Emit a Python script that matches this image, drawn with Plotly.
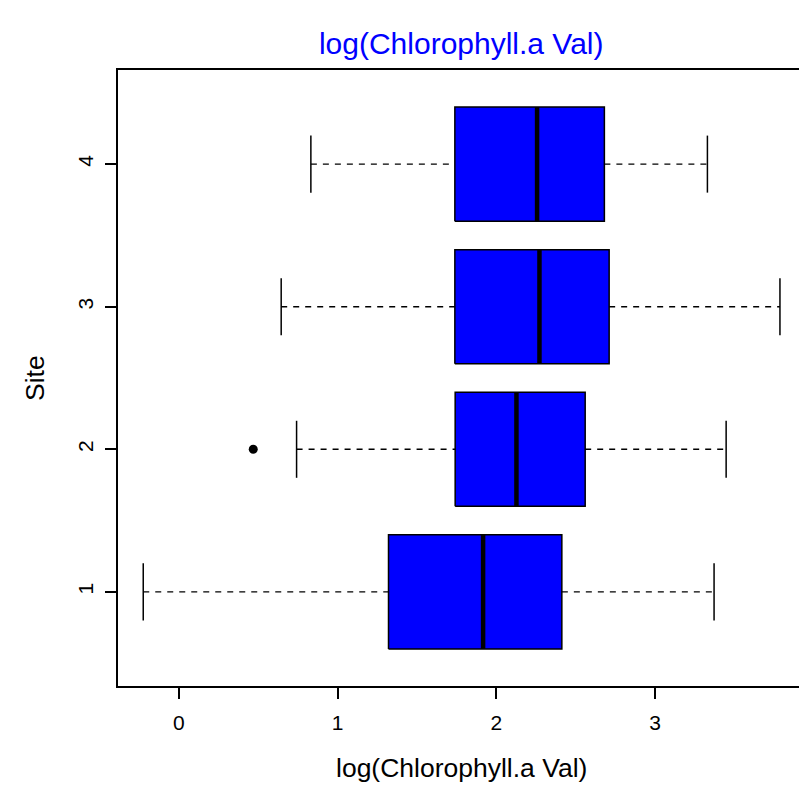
import plotly.graph_objects as go

# ---- data ----
sites = [1, 2, 3, 4]
site_labels = ["1", "2", "3", "4"]
lower_whisker = [-0.224, 0.742, 0.645, 0.832]
q1 = [1.321, 1.741, 1.739, 1.739]
median = [1.917, 2.127, 2.272, 2.257]
q3 = [2.413, 2.560, 2.711, 2.681]
upper_whisker = [3.372, 3.448, 3.787, 3.330]
outlier_site = [2]
outlier_value = [0.469]
x_ticks = [0, 1, 2, 3]

BOX_HALF = 0.4
CAP_HALF = 0.2
BLUE = "#0000FF"

fig = go.Figure()

# boxes
for s, a, b in zip(sites, q1, q3):
    fig.add_trace(go.Scatter(
        x=[a, b, b, a, a],
        y=[s - BOX_HALF, s - BOX_HALF, s + BOX_HALF, s + BOX_HALF, s - BOX_HALF],
        mode="lines", fill="toself", fillcolor=BLUE,
        line=dict(color="black", width=1.5), hoverinfo="skip", showlegend=False))

# dashed whiskers
wx, wy = [], []
for s, lo, a, b, hi in zip(sites, lower_whisker, q1, q3, upper_whisker):
    wx += [lo, a, None, b, hi, None]
    wy += [s, s, None, s, s, None]
fig.add_trace(go.Scatter(x=wx, y=wy, mode="lines",
                         line=dict(color="black", width=1.4, dash="6px,6px"),
                         hoverinfo="skip", showlegend=False))

# caps
cx, cy = [], []
for s, lo, hi in zip(sites, lower_whisker, upper_whisker):
    cx += [lo, lo, None, hi, hi, None]
    cy += [s - CAP_HALF, s + CAP_HALF, None, s - CAP_HALF, s + CAP_HALF, None]
fig.add_trace(go.Scatter(x=cx, y=cy, mode="lines",
                         line=dict(color="black", width=1.5),
                         hoverinfo="skip", showlegend=False))

# medians
mx, my = [], []
for s, m in zip(sites, median):
    mx += [m, m, None]
    my += [s - BOX_HALF, s + BOX_HALF, None]
fig.add_trace(go.Scatter(x=mx, y=my, mode="lines",
                         line=dict(color="black", width=4.5),
                         hoverinfo="skip", showlegend=False))

# outliers
fig.add_trace(go.Scatter(x=outlier_value, y=outlier_site, mode="markers",
                         marker=dict(color="black", size=9, symbol="circle"),
                         hoverinfo="skip", showlegend=False))

FONT = "Liberation Sans, Arial, sans-serif"

fig.update_layout(
    width=799, height=788,
    margin=dict(l=118, r=0, t=70, b=102),
    paper_bgcolor="white", plot_bgcolor="white",
    font=dict(family=FONT, color="black"),
    title=dict(text="log(Chlorophyll.a Val)", font=dict(size=30, color=BLUE, family=FONT),
               xref="paper", x=0.504, xanchor="center",
               yref="container", y=1 - 43 / 788, yanchor="middle"),
    xaxis=dict(range=[-0.383, 3.907], tickvals=x_ticks, ticktext=[str(t) for t in x_ticks],
               showgrid=False, zeroline=False, showline=True, linecolor="black", linewidth=1.5,
               mirror=True, ticks="outside", ticklen=11, tickwidth=1.5, tickcolor="black",
               ticklabelstandoff=6,
               tickfont=dict(size=21, family=FONT, color="black")),
    yaxis=dict(range=[0.34, 4.66], tickvals=sites, ticktext=site_labels,
               showgrid=False, zeroline=False, showline=True, linecolor="black", linewidth=1.5,
               mirror=False, ticks="outside", ticklen=11, tickwidth=1.5, tickcolor="black",
               ticklabelstandoff=4,
               tickangle=-90, tickfont=dict(size=21, family=FONT, color="black")),
    annotations=[
        dict(text="log(Chlorophyll.a Val)", xref="paper", yref="paper", x=0.504, y=-82 / 616,
             xanchor="center", yanchor="middle", showarrow=False,
             font=dict(size=26.5, family=FONT, color="black")),
        dict(text="Site", xref="paper", yref="paper", x=-83 / 681, y=0.5, textangle=-90,
             xanchor="center", yanchor="middle", showarrow=False,
             font=dict(size=26.5, family=FONT, color="black")),
    ],
)

fig.write_html("out.html")
